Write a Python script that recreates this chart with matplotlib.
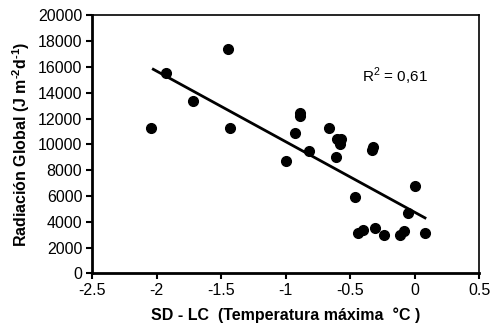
import matplotlib.pyplot as plt
import numpy as np

plt.rcParams['font.family'] = ['Liberation Sans', 'DejaVu Sans']
plt.rcParams['mathtext.fontset'] = 'custom'
plt.rcParams['mathtext.rm'] = 'Liberation Sans'
plt.rcParams['mathtext.bf'] = 'Liberation Sans:bold'

# SD - LC (max temperature) vs global radiation
temp_diff = [-2.04, -1.93, -1.72, -1.45, -1.43,
             -1.00, -0.93, -0.89, -0.89, -0.82,
             -0.66, -0.61, -0.60, -0.58, -0.57,
             -0.46, -0.44, -0.40, -0.33, -0.32,
             -0.31, -0.24, -0.11, -0.08, -0.05,
             0.00, 0.08]
radiation = [11300, 15550, 13350, 17400, 11300,
             8700, 10850, 12200, 12450, 9450,
             11300, 9000, 10400, 10050, 10400,
             5900, 3100, 3400, 9600, 9800,
             3500, 2950, 2950, 3250, 4650,
             6800, 3100]
# trend line as printed on the chart
fit_slope = -5470
fit_intercept = 4740
r2_text = 'R$^2$ = 0,61'

x = np.array(temp_diff)
y = np.array(radiation)
xs = np.array([-2.025, x.max()])

fig = plt.figure(figsize=(4.92, 3.33), dpi=100)
ax = fig.add_axes([0.187, 0.179, 0.787, 0.775])

ax.plot(x, y, 'o', color='black', ms=7, zorder=3)
ax.plot(xs, fit_slope * xs + fit_intercept, '-', color='black', lw=2)

ax.text(-0.41, 15250, r2_text, fontsize=11, va='center', ha='left')

ax.set_xlim(-2.5, 0.5)
ax.set_ylim(0, 20000)
ax.set_xticks(np.arange(-2.5, 0.51, 0.5))
ax.set_xticklabels(['-2.5', '-2', '-1.5', '-1', '-0.5', '0', '0.5'])
ax.set_yticks(np.arange(0, 20001, 2000))
ax.tick_params(direction='out', length=4, width=1.5, labelsize=11.5, pad=3)

for side in ['left', 'bottom']:
    ax.spines[side].set_linewidth(2)
for side in ['top', 'right']:
    ax.spines[side].set_linewidth(1.2)

ax.set_xlabel('SD - LC  (Temperatura máxima  °C )', fontsize=11.5, fontweight='bold', labelpad=7)
ax.set_ylabel('Radiación Global (J m$^{\\mathbf{\u2010 2}}$d$^{\\mathbf{\u2010 1}}$)',
              fontsize=11.5, fontweight='bold', labelpad=4)

fig.savefig('out.png', dpi=100)
